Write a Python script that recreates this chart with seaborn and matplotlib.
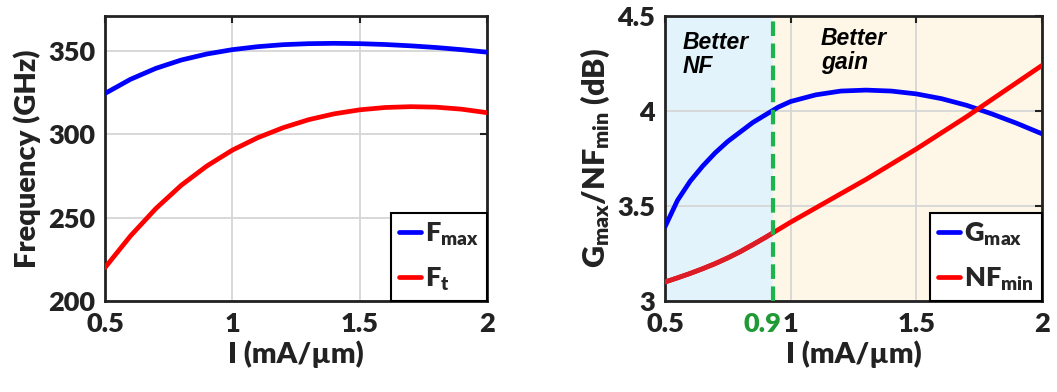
import numpy as np
import pandas as pd
import matplotlib
matplotlib.use("Agg")
import matplotlib.pyplot as plt
import seaborn as sns

# dati (grafico di sinistra)
corrente = [0.5, 0.6, 0.7, 0.8, 0.9, 1.0, 1.1, 1.2, 1.3, 1.4, 1.5, 1.6, 1.7, 1.8, 1.9, 2.0]
f_max = [324.5, 333.0, 339.6, 344.6, 348.2, 350.8, 352.6, 353.8, 354.4, 354.6, 354.4, 353.9, 353.1, 352.1, 350.8, 349.3]
f_t = [220, 239, 255.5, 269.5, 281, 290.5, 298, 304, 308.8, 312.3, 314.7, 316.1, 316.6, 316.3, 315.1, 313.0]

# dati (grafico di destra)
corrente_g = [0.5, 0.55, 0.6, 0.65, 0.7, 0.75, 0.8, 0.85, 0.9, 0.95, 1.0, 1.1, 1.2, 1.3, 1.4, 1.5, 1.6, 1.7, 1.8, 1.9, 2.0]
g_max = [3.39, 3.53, 3.63, 3.71, 3.78, 3.84, 3.89, 3.94, 3.98, 4.02, 4.05, 4.085, 4.105, 4.11, 4.105, 4.09, 4.065, 4.03, 3.985, 3.935, 3.88]
nf_min = [3.10, 3.122, 3.145, 3.17, 3.197, 3.227, 3.26, 3.297, 3.335, 3.375, 3.415, 3.49, 3.565, 3.64, 3.72, 3.80, 3.885, 3.97, 4.06, 4.15, 4.24]

soglia = 0.93
etichette_x = ["0.5", "1", "1.5", "2"]

sns.set_style("white")
plt.rcParams["font.family"] = ["Lato", "DejaVu Sans"]
plt.rcParams["font.weight"] = "heavy"
plt.rcParams["axes.labelweight"] = "heavy"
plt.rcParams["mathtext.fontset"] = "custom"
plt.rcParams["mathtext.rm"] = "Lato:heavy"
plt.rcParams["mathtext.bf"] = "Lato:heavy"
plt.rcParams["mathtext.it"] = "Lato:heavy:italic"

testo = "#222222"
fig = plt.figure(figsize=(10.57, 3.92), dpi=100)
ax1 = fig.add_axes([0.0993, 0.2321, 0.3614, 0.7271])
ax2 = fig.add_axes([0.6291, 0.2321, 0.3567, 0.7271])

df1 = pd.DataFrame({"I": corrente * 2, "val": f_max + f_t,
                    "serie": [r"$\mathrm{F}_{\mathrm{max}}$"] * len(corrente) + [r"$\mathrm{F}_{\mathrm{t}}$"] * len(corrente)})
df2 = pd.DataFrame({"I": corrente_g * 2, "val": g_max + nf_min,
                    "serie": [r"$\mathrm{G}_{\mathrm{max}}$"] * len(corrente_g) + [r"$\mathrm{NF}_{\mathrm{min}}$"] * len(corrente_g)})

palette = ["#0000ff", "#ff0000"]

# zone colorate nel secondo grafico
zona_nf = ax2.axvspan(0.5, soglia, color="#e2f3fb", zorder=0)
ax2.axvspan(soglia, 2.0, color="#fef6e6", zorder=0)

sns.lineplot(data=df1, x="I", y="val", hue="serie", palette=palette, linewidth=3.4, ax=ax1, zorder=3)
sns.lineplot(data=df2, x="I", y="val", hue="serie", palette=palette, linewidth=3.4, ax=ax2, zorder=3)

# nella zona azzurra la curva rossa appare piu' scura
n_linee = len(ax2.lines)
sns.lineplot(x=corrente_g, y=nf_min, color="#dc1c26", linewidth=3.4, ax=ax2, zorder=3.5, legend=False)
for linea in ax2.lines[n_linee:]:
    linea.set_clip_path(zona_nf)

ax2.axvline(soglia, color="#1db44b", linewidth=3, linestyle=(0, (3.5, 1.8)), zorder=4)

for ax in (ax1, ax2):
    ax.set_xlim(0.5, 2)
    ax.set_xticks([0.5, 1, 1.5, 2])
    ax.set_xticklabels(etichette_x)
    ax.grid(True, color="#d6d6d6", linewidth=1.3, zorder=1)
    ax.set_axisbelow(True)
    ax.tick_params(direction="in", length=5, width=1.5, top=True, right=True,
                   labelsize=19.5, colors=testo)
    ax.tick_params(axis="x", pad=8)
    ax.tick_params(axis="y", pad=7)
    for s in ax.spines.values():
        s.set_linewidth(2)
        s.set_color(testo)
    ax.set_xlabel("I (mA/µm)", fontsize=21, color=testo, labelpad=3)

ax1.set_ylim(200, 371)
ax1.set_yticks([200, 250, 300, 350])
ax1.set_ylabel("Frequency (GHz)", fontsize=21, color=testo, labelpad=5)

ax2.set_ylim(3, 4.5)
ax2.set_yticks([3, 3.5, 4, 4.5])
ax2.set_yticklabels(["3", "3.5", "4", "4.5"])
ax2.set_ylabel(r"$\mathrm{G}_{\mathrm{max}}/\mathrm{NF}_{\mathrm{min}}$ (dB)", fontsize=22,
               color=testo, labelpad=4)

# legende con le sole due serie principali
for ax in (ax1, ax2):
    maniglie, etichette = ax.get_legend_handles_labels()
    leg = ax.legend(maniglie[:2], etichette[:2], loc="lower right", fontsize=19.5,
                    handlelength=0.8, handletextpad=0.15, borderaxespad=0, fancybox=False,
                    edgecolor="black", framealpha=1, labelspacing=0.65, borderpad=0.3)
    leg.get_frame().set_linewidth(1.5)
    leg.set_zorder(6)

ax2.annotate("0.9", xy=(0.962, 0), xycoords=("data", "axes fraction"), xytext=(0, -8),
             textcoords="offset points", ha="right", va="top", fontsize=19.5,
             color="#1f9a35")

ax2.text(0.57, 4.42, "Better\nNF", fontsize=16.5, fontweight="bold", style="italic",
         family="Liberation Sans", color="black", va="top", ha="left", linespacing=1.05, zorder=5)
ax2.text(1.12, 4.44, "Better\ngain", fontsize=16.5, fontweight="bold", style="italic",
         family="Liberation Sans", color="black", va="top", ha="left", linespacing=1.05, zorder=5)

fig.savefig("out.png", dpi=100)
